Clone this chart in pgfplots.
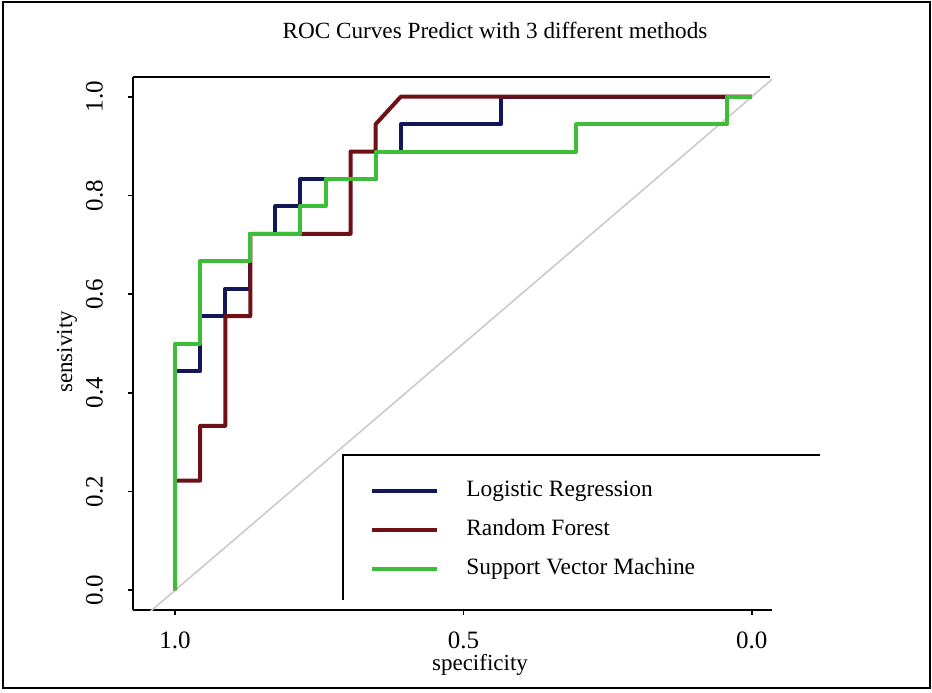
\documentclass[border=0pt]{standalone}
\usepackage{fontspec}
\setmainfont{Liberation Serif}
\usepackage{pgfplots}
\pgfplotsset{compat=1.18}
\definecolor{lrblue}{RGB}{20,22,90}
\definecolor{rfred}{RGB}{110,16,22}
\definecolor{svmgreen}{RGB}{62,190,56}
\definecolor{diaggray}{RGB}{200,200,200}

% ROC points: specificity, sensitivity
\pgfplotstableread{
spec sens
1.0000 0.0000
1.0000 0.4444
0.9565 0.4444
0.9565 0.5556
0.9130 0.5556
0.9130 0.6111
0.8696 0.6111
0.8696 0.7222
0.8261 0.7222
0.8261 0.7778
0.7826 0.7778
0.7826 0.8333
0.6522 0.8333
0.6522 0.8889
0.6087 0.8889
0.6087 0.9444
0.4348 0.9444
0.4348 1.0000
0.0000 1.0000
}\lrdata
\pgfplotstableread{
spec sens
1.0000 0.0000
1.0000 0.2222
0.9565 0.2222
0.9565 0.3333
0.9130 0.3333
0.9130 0.5556
0.8696 0.5556
0.8696 0.7222
0.6957 0.7222
0.6957 0.8889
0.6522 0.8889
0.6522 0.9444
0.6087 1.0000
0.0000 1.0000
}\rfdata
\pgfplotstableread{
spec sens
1.0000 0.0000
1.0000 0.5000
0.9565 0.5000
0.9565 0.6667
0.8696 0.6667
0.8696 0.7222
0.7826 0.7222
0.7826 0.7778
0.7391 0.7778
0.7391 0.8333
0.6522 0.8333
0.6522 0.8889
0.3043 0.8889
0.3043 0.9444
0.0435 0.9444
0.0435 1.0000
0.0000 1.0000
}\svmdata

\begin{document}
\begin{tikzpicture}[x=0.5pt,y=0.5pt]
\useasboundingbox (0,0) rectangle (932,692);
\draw[line width=1pt] (3,4) rectangle (930,690);
\begin{axis}[
  at={(66.5pt,41pt)}, anchor=south west,
  scale only axis, width=319.5pt, height=266.5pt,
  x dir=reverse,
  xmin=-0.035, xmax=1.073, ymin=-0.04, ymax=1.04,
  axis x line*=bottom, axis y line*=left,
  axis line style={line width=1pt, -},
  tick align=outside, major tick length=2.5pt,
  tick style={line width=0.8pt, black},
  xtick={0,0.5,1}, xticklabels={0.0,0.5,1.0},
  ytick={0,0.2,0.4,0.6,0.8,1},
  yticklabels={0.0,0.2,0.4,0.6,0.8,1.0},
  tick label style={font=\fontsize{12.5}{14}\selectfont},
  xticklabel style={inner sep=1pt},
  yticklabel style={rotate=90, anchor=south},
  xticklabel shift=7pt, yticklabel shift=9pt,
  /pgf/number format/assume math mode=true,
  clip mode=individual,
  legend style={at={(axis cs:0.6725,0.2313)}, anchor=north west,
    draw=none, fill=none, font=\fontsize{11.7}{13}\selectfont,
    row sep=9pt, nodes={inner sep=0pt, text height=8pt, text depth=2.5pt},
    /tikz/every odd column/.append style={column sep=13.5pt}},
  legend cell align=left,
  legend image code/.code={\draw[#1] (0pt,0pt) -- (32.5pt,0pt);},
]
\addplot[diaggray, line width=0.75pt, forget plot] coordinates {(1.1,-0.1) (-0.1,1.1)};
\addplot[lrblue, line width=2pt, line join=round] table[x=spec, y=sens] {\lrdata};
\addlegendentry{Logistic Regression}
\addplot[rfred, line width=2pt, line join=round] table[x=spec, y=sens] {\rfdata};
\addlegendentry{Random Forest}
\addplot[svmgreen, line width=2pt, line join=round] table[x=spec, y=sens] {\svmdata};
\addlegendentry{Support Vector Machine}
\draw[line width=1pt] (rel axis cs:0,1) -- (rel axis cs:0.997,1);
\end{axis}
% legend frame (top and left edges only)
\draw[line width=1pt] (343,92) -- (343,237) -- (820,237);
\node[font=\fontsize{11.6}{13}\selectfont] at (495,662) {ROC Curves Predict with 3 different methods};
\node[font=\fontsize{11.5}{13}\selectfont, anchor=base, inner sep=1pt] at (480,22) {specificity};
\node[font=\fontsize{11.5}{13}\selectfont, rotate=90, anchor=base] at (72,340) {sensivity};
\end{tikzpicture}
\end{document}
